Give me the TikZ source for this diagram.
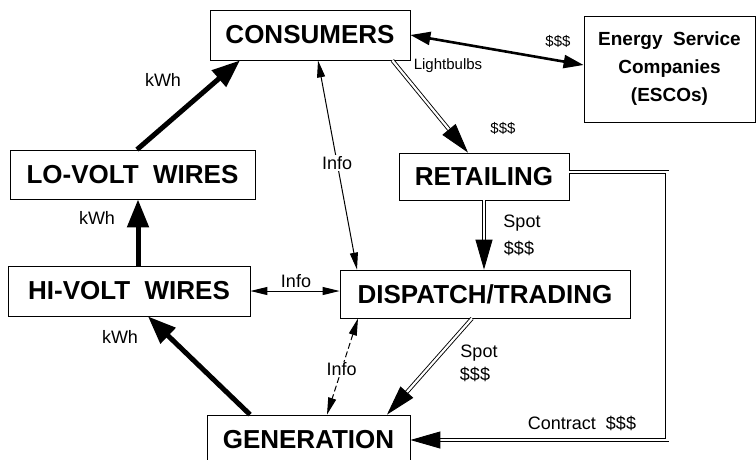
\documentclass[tikz,border=0pt]{standalone}
\usepackage{fontspec}
\setmainfont{Liberation Sans}
\usetikzlibrary{arrows.meta}
\begin{document}
\begin{tikzpicture}[x=1pt,y=-1pt,
  box/.style={draw, line width=0.8pt, rectangle, inner sep=0pt, font=\fontsize{26}{28}\selectfont\bfseries},
  lbl/.style={inner sep=1pt, font=\fontsize{18}{20}\selectfont},
  slbl/.style={inner sep=1pt, font=\fontsize{15}{17}\selectfont},
  power/.style={line width=5pt, -{Triangle[length=28pt,width=21pt]}},
  info/.style={line width=1pt, {Triangle[length=17pt,width=8pt]}-{Triangle[length=17pt,width=8pt]}},
  money/.style={line width=0.9pt, double=white, double distance=2.2pt, -{Triangle[length=30pt,width=17pt]}},
  bulb/.style={line width=2.6pt, {Triangle[length=20pt,width=13pt]}-{Triangle[length=20pt,width=13pt]}}
]
\clip (0,0) rectangle (756,459);
\fill[white] (0,0) rectangle (756,459);

\node[box, minimum width=200pt, minimum height=50pt] (cons) at (310,35) {CONSUMERS};
\node[box, minimum width=171pt, minimum height=106pt, align=center, font=\fontsize{19}{28}\selectfont\bfseries] (esco) at (669.5,69) {Energy\ \ Service\\Companies\\(ESCOs)};
\node[box, minimum width=170pt, minimum height=47pt] (ret) at (484,176.5) {RETAILING};
\node[box, minimum width=245pt, minimum height=49pt] (lo) at (132.5,174.5) {LO-VOLT\ \ WIRES};
\node[box, minimum width=242pt, minimum height=50pt] (hi) at (129,291) {HI-VOLT\ \ WIRES};
\node[box, minimum width=290pt, minimum height=48pt] (disp) at (485,294) {DISPATCH/TRADING};
\node[box, minimum width=203pt, minimum height=50pt] (gen) at (308.5,440) {GENERATION};

% power flows
\draw[power] ([xshift=4.5pt]lo.north) -- ([xshift=-70pt]cons.south);
\draw[power] ([xshift=9pt]hi.north) -- ([xshift=5.5pt]lo.south);
\draw[power] ([xshift=-58.5pt]gen.north) -- ([xshift=19pt]hi.south);
\node[lbl] (k1) at (163,80) {kWh};
\node[lbl] (k2) at (97,218) {kWh};
\node[lbl] (k3) at (120,337) {kWh};

% info flows
\draw[info] (hi.east) -- (hi.east -| disp.west);
\node[lbl] (i1) at (296,281) {Info};
\draw[info] ([xshift=8pt]cons.south) -- node[lbl, fill=white, pos=0.49] (i2) {Info} ([xshift=-128pt]disp.north);
\draw[info, dashed, dash pattern=on 6pt off 3pt] ([xshift=-127pt]disp.south) -- node[lbl, fill=white, pos=0.53] (i3) {Info} ([xshift=18.5pt]gen.north);

% money flows
\draw[money] ([xshift=-18pt]cons.south east) -- ([xshift=-16pt]ret.north);
\node[slbl] (m1) at (503,128) {\$\$\$};
\draw[money] (ret.south) -- (ret.south |- disp.north);
\node[lbl] (sp1) at (522,223) {Spot};
\node[lbl] (m2) at (519,248) {\$\$\$};
\draw[money] ([xshift=-13pt]disp.south) -- ([xshift=78.5pt]gen.north);
\node[lbl] (sp2) at (479,353) {Spot};
\node[lbl] (m3) at (475,374) {\$\$\$};
\draw[money] ([yshift=4.5pt]ret.east) -- ++(98,0) |- (gen.east);
\node[lbl] (ct) at (582,423) {Contract\ \ \$\$\$};

% ESCOs
\draw[bulb] (cons.east) -- ([yshift=4pt]esco.west);
\node[slbl] (lb) at (448,66) {Lightbulbs};
\node[slbl] (m4) at (558,41) {\$\$\$};
\end{tikzpicture}
\end{document}
